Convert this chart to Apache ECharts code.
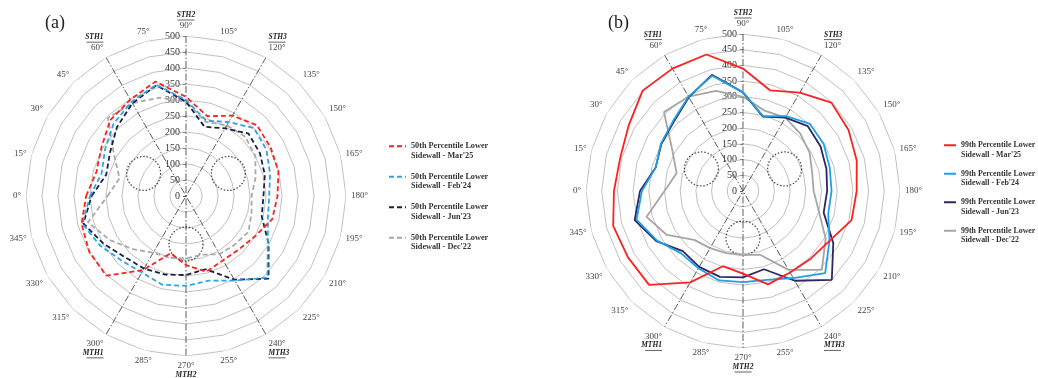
<!DOCTYPE html>
<html>
<head>
<meta charset="utf-8">
<script src="https://cdn.jsdelivr.net/npm/echarts@6.0.0/dist/echarts.min.js"></script>
<style>
html,body{margin:0;padding:0;background:#fff;}
#c{width:1038px;height:378px;}
</style>
</head>
<body>
<div id="c"></div>
<script>
// ---- data ----
const angleDeg = [0,15,30,45,60,75,90,105,120,135,150,165,180,195,210,225,240,255,270,285,300,315,330,345];
const radiusTicks = [0,50,100,150,200,250,300,350,400,450,500];
const ringValues = [50,100,150,200,250,300,350,400,450,500];
const thLabels = {60:'STH1',90:'STH2',120:'STH3',240:'MTH3',270:'MTH2',300:'MTH1'};
const spokes = [[60,240],[90,270],[120,300]];
const circleAngles = [28,152,270];
const circleRadius = 150;

const namesA = ["50th Percentile Lower Sidewall - Mar'25","50th Percentile Lower Sidewall - Feb'24","50th Percentile Lower Sidewall - Jun'23","50th Percentile Lower Sidewall - Dec'22"];
const namesB = ["99th Percentile Lower Sidewall - Mar'25","99th Percentile Lower Sidewall - Feb'24","99th Percentile Lower Sidewall - Jun'23","99th Percentile Lower Sidewall - Dec'22"];

// (a) 50th percentile
const redA  = [312,290,305,335,348,370,310,258,290,313,305,299,286,279,250,235,232,245,216,185,267,352,349,338];
const blueA = [300,273,292,320,340,360,300,244,267,300,290,272,260,265,295,360,305,274,281,287,276,285,310,335];
const navyA = [295,258,274,305,335,358,295,224,244,276,267,255,242,245,298,365,302,237,247,254,262,270,298,332];
const greyA = [245,215,260,345,335,318,295,240,255,262,250,225,205,212,225,215,210,190,195,199,205,235,275,317];

// (b) 99th percentile
const redB  = [411,405,420,452,450,450,390,332,362,398,388,375,362,358,318,305,300,308,263,248,336,423,423,428];
const blueB = [322,288,302,315,347,380,314,247,275,302,297,286,282,281,318,370,320,293,290,295,284,280,316,351];
const navyB = [328,288,300,312,345,383,314,245,270,292,285,275,268,266,332,400,330,258,275,283,279,271,319,357];
const greyB = [250,219,260,356,347,330,300,265,270,258,245,228,225,250,304,355,290,210,204,205,210,220,280,318];

const colorsA = ['#ff1f1f','#2aa6e6','#18204a','#a9a9a9'];
const colorsB = ['#ff2020','#20a0e8','#2f2660','#a6a6a6'];

// ---- helpers ----
const ax = a => (a < 90 ? a + 360 : a);
function loop(values){ const p = angleDeg.map((a,i)=>[values[i], ax(a)]); p.push(p[0]); return p; }
function ring(r){ const p = angleDeg.map(a=>[r, ax(a)]); p.push(p[0]); return p; }

const FONT = 'Liberation Serif';

function angleAxisCfg(pi){
  return {
    polarIndex: pi, type:'value', min:90, max:450, interval:15, startAngle:90, clockwise:true,
    axisLine:{show:false}, axisTick:{show:false}, splitLine:{show:false},
    axisLabel:{
      margin:5, fontFamily:FONT, fontSize:9, color:'#444',
      formatter: v => {
        if (v >= 450) return '';
        const a = v % 360;
        const t = thLabels[a];
        if (!t) return '{n|' + a + '°}';
        if (a < 180) return '{s|' + t + '}\n{u|}\n{n|' + a + '°}';
        return '{n|' + a + '°}\n{s|' + t + '}\n{u|}';
      },
      rich:{
        n:{fontFamily:FONT, fontSize:9, color:'#444', lineHeight:10},
        s:{fontFamily:FONT, fontSize:7.5, fontStyle:'italic', fontWeight:'bold', color:'#222', lineHeight:8},
        u:{width:17, height:0.7, lineHeight:2, backgroundColor:'#222'}
      }
    }
  };
}
function radiusAxisCfg(pi){
  return {
    polarIndex: pi, type:'value', min:0, max:500, interval:50,
    axisLine:{show:false},
    axisTick:{show:true, length:3, lineStyle:{color:'#333', width:0.8}},
    splitLine:{show:false},
    axisLabel:{fontFamily:FONT, fontSize:10, color:'#333', margin:6}
  };
}

function baseSeries(pi){
  const s = [];
  ringValues.forEach(r => s.push({
    type:'line', coordinateSystem:'polar', polarIndex:pi, data:ring(r), symbol:'none', silent:true, z:1,
    lineStyle:{color:'#b0b0b0', width:0.8}
  }));
  spokes.forEach(sp => s.push({
    type:'line', coordinateSystem:'polar', polarIndex:pi, data:[[500, ax(sp[0])],[500, ax(sp[1])]], symbol:'none', silent:true, z:2,
    lineStyle:{color:'#333', width:0.8, type:[7,2,1.5,2]}
  }));
  s.push({
    type:'scatter', coordinateSystem:'polar', polarIndex:pi, data:circleAngles.map(a=>[circleRadius, ax(a)]),
    symbol:'circle', symbolSize:34, silent:true, z:3,
    itemStyle:{color:'rgba(0,0,0,0)', borderColor:'#222', borderWidth:1.3, borderType:[1.5,1.8]}
  });
  return s;
}
function dataSeries(pi, names, arrays, colors, dashed){
  return arrays.map((arr,i)=>({
    name:names[i], type:'line', coordinateSystem:'polar', polarIndex:pi, data:loop(arr),
    symbol:'none', z:10 - i, color:colors[i],
    lineStyle:{color:colors[i], width:1.8, type: dashed ? [5,3] : 'solid'}
  }));
}

const legendTextA = {fontFamily:FONT, fontSize:8.2, fontWeight:'bold', color:'#333', lineHeight:9.5};
const legendTextB = {fontFamily:FONT, fontSize:7.9, fontWeight:'bold', color:'#333', lineHeight:9.5};
const fmt = n => '\n' + n.replace(' Sidewall', '\nSidewall');

const option = {
  animation:false,
  backgroundColor:'#fff',
  title:[
    {text:'(a)', left:40, top:9, textStyle:{fontFamily:FONT, fontSize:18, fontWeight:'normal', color:'#222'}},
    {text:'(b)', left:603, top:9, textStyle:{fontFamily:FONT, fontSize:18, fontWeight:'normal', color:'#222'}}
  ],
  polar:[{center:[186,196], radius:160},{center:[743,191], radius:157}],
  angleAxis:[angleAxisCfg(0), angleAxisCfg(1)],
  radiusAxis:[radiusAxisCfg(0), radiusAxisCfg(1)],
  legend:[
    {data:namesA, left:388, top:132, padding:0, orient:'vertical', itemGap:2, itemWidth:17, itemHeight:8,
     itemStyle:{opacity:0}, textStyle:legendTextA, formatter:fmt},
    {data:namesB, left:943, top:131, padding:0, orient:'vertical', itemGap:0, itemWidth:12, itemHeight:8,
     itemStyle:{opacity:0}, textStyle:legendTextB, formatter:fmt}
  ],
  series:[].concat(
    baseSeries(0), baseSeries(1),
    dataSeries(0, namesA, [redA, blueA, navyA, greyA], colorsA, true),
    dataSeries(1, namesB, [redB, blueB, navyB, greyB], colorsB, false)
  )
};
const chart = echarts.init(document.getElementById('c'), null, {renderer:'canvas'});
chart.setOption(option);
</script>
</body>
</html>
